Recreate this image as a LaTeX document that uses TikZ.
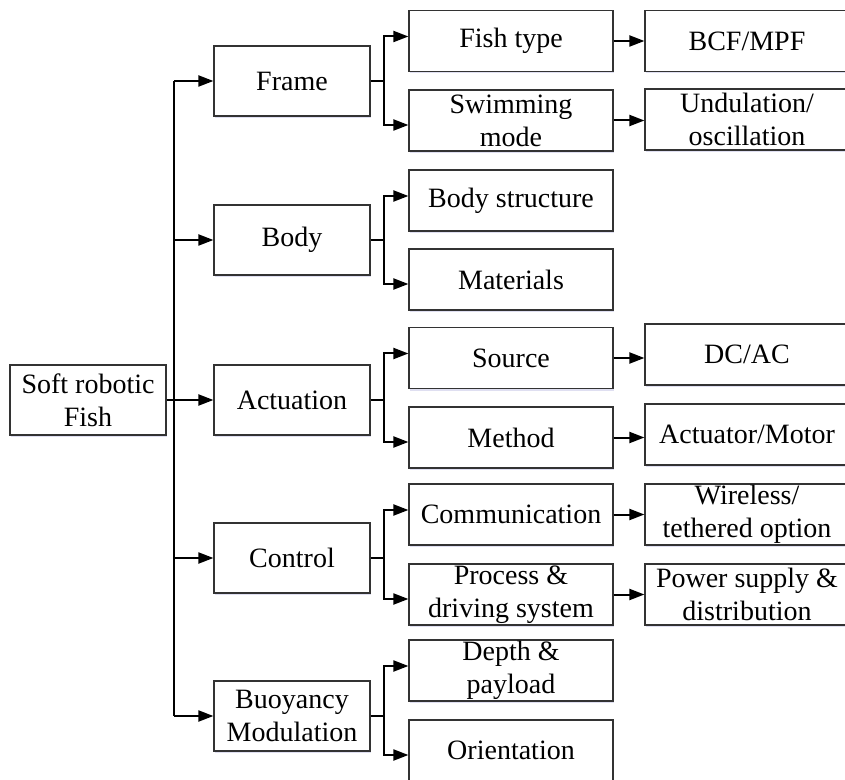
\documentclass[tikz,border=0pt]{standalone}
\usepackage{fontspec}
\setmainfont{Liberation Serif}
\usetikzlibrary{arrows.meta,shadows}
\begin{document}
\begin{tikzpicture}[x=0.5pt,y=-0.5pt,
  box/.style={draw=black!80, line width=0.6pt, fill=white, align=center,
    inner sep=0pt, font=\fontsize{14}{16.5}\selectfont,
    drop shadow={shadow xshift=0.7pt, shadow yshift=-1pt,
      fill=blue!40!gray, opacity=0.18}},
  rootbox/.style={box, minimum width=78pt, minimum height=35pt},
  lvlone/.style={box, minimum width=78pt, minimum height=35pt},
  lvltwo/.style={box, minimum width=102pt, minimum height=30.5pt},
  lvlthree/.style={box, minimum width=102pt, minimum height=30.5pt},
  wire/.style={line width=1pt, draw=black},
  link/.style={wire, -{Triangle[length=7.5pt,width=5.5pt]}},
]
\useasboundingbox (0,0) rectangle (845,780);
\clip (0,0) rectangle (845,780);

% root
\node[rootbox] (root) at (88,400) {Soft robotic\\Fish};

% first level
\node[lvlone] (frame) at (292,81)  {Frame};
\node[lvlone] (body)  at (292,240) {Body};
\node[lvlone] (act)   at (292,400) {Actuation};
\node[lvlone] (ctrl)  at (292,558) {Control};
\node[lvlone] (buoy)  at (292,716) {Buoyancy\\Modulation};

% second level
\node[lvltwo] (fish)   at (511,41)    {Fish type};
\node[lvltwo] (swim)   at (511,120.5) {Swimming\\mode};
\node[lvltwo] (bstr)   at (511,200.5) {Body structure};
\node[lvltwo] (mat)    at (511,279.5) {Materials};
\node[lvltwo] (src)    at (511,358)   {Source};
\node[lvltwo] (meth)   at (511,437.5) {Method};
\node[lvltwo] (comm)   at (511,514.5) {Communication};
\node[lvltwo] (proc)   at (511,594.5) {Process \&\\driving system};
\node[lvltwo] (depth)  at (511,670.5) {Depth \&\\payload};
\node[lvltwo] (orient) at (511,750.5) {Orientation};

% third level
\node[lvlthree] (bcf)   at (747,41)    {BCF/MPF};
\node[lvlthree] (undul) at (747,119.5) {Undulation/\\oscillation};
\node[lvlthree] (dcac)  at (747,354.5) {DC/AC};
\node[lvlthree] (motor) at (747,434.5) {Actuator/Motor};
\node[lvlthree] (wless) at (747,514.5) {Wireless/\\tethered option};
\node[lvlthree] (power) at (747,594.5) {Power supply \&\\distribution};

% trunk from the root to the first level
\coordinate (tk) at (174,400);
\draw[link] (root.east) -- (act.west);
\draw[wire] (frame.west -| tk) -- (buoy.west -| tk);
\foreach \n in {frame,body,ctrl,buoy}
  \draw[link] (\n.west -| tk) -- (\n.west);

% forks from the first to the second level
\foreach \p/\a/\b in {frame/fish/swim, body/bstr/mat, act/src/meth,
                      ctrl/comm/proc, buoy/depth/orient}{
  \draw[link] (\p.east) -- ++(13,0) |- ([yshift=2.25pt]\a.west);
  \draw[link] (\p.east) ++(13,0) |- ([yshift=-2.25pt]\b.west);
}

% second to third level
\foreach \a/\b in {fish/bcf, swim/undul, src/dcac, meth/motor,
                   comm/wless, proc/power}
  \draw[link] (\a.east) -- (\a.east -| \b.west);
\end{tikzpicture}
\end{document}
